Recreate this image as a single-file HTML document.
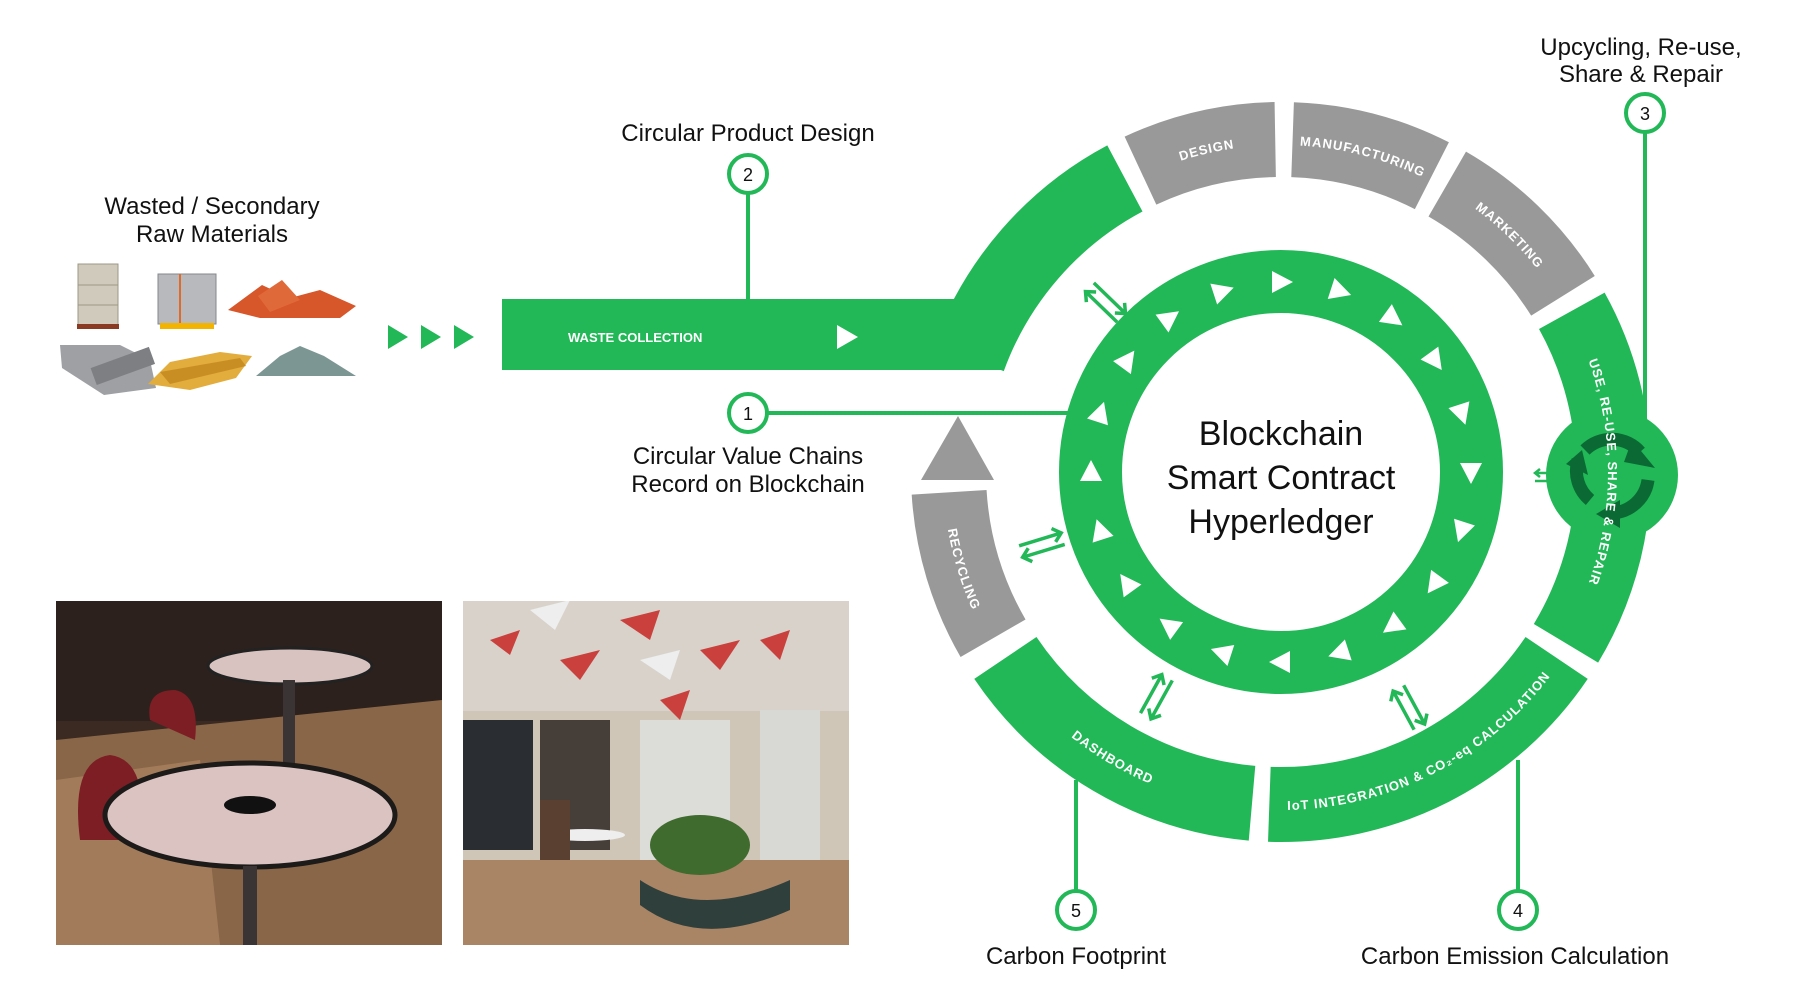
<!DOCTYPE html>
<html><head><meta charset="utf-8"><style>
html,body{margin:0;padding:0;background:#fff;}
svg{display:block;}
text{font-family:"Liberation Sans",sans-serif;}
</style></head><body>
<svg width="1800" height="992" viewBox="0 0 1800 992" xmlns="http://www.w3.org/2000/svg">
<defs>
<path id="cw" d="M1608,472 A327 327 0 1 1 954,472 A327 327 0 1 1 1608,472"/>
<path id="ccw" d="M1619,472 A338 338 0 1 0 943,472 A338 338 0 1 0 1619,472"/>
</defs>
<rect width="1800" height="992" fill="#fff"/>

<!-- Outer ring segments -->
<g fill="none" stroke-width="75">
<circle cx="1281" cy="472" r="332.5" stroke="#22b857" stroke-dasharray="243.7 3000" transform="rotate(-160 1281 472)"/>
<circle cx="1281" cy="472" r="332.5" stroke="#999" stroke-dasharray="139.3 3000" transform="rotate(-115 1281 472)"/>
<circle cx="1281" cy="472" r="332.5" stroke="#999" stroke-dasharray="145 3000" transform="rotate(-88 1281 472)"/>
<circle cx="1281" cy="472" r="332.5" stroke="#999" stroke-dasharray="162.5 3000" transform="rotate(-60 1281 472)"/>
<circle cx="1281" cy="472" r="332.5" stroke="#22b857" stroke-dasharray="348.2 3000" transform="rotate(-29 1281 472)"/>
<circle cx="1281" cy="472" r="332.5" stroke="#22b857" stroke-dasharray="336.6 3000" transform="rotate(34 1281 472)"/>
<circle cx="1281" cy="472" r="332.5" stroke="#22b857" stroke-dasharray="295.9 3000" transform="rotate(95 1281 472)"/>
<circle cx="1281" cy="472" r="332.5" stroke="#999" stroke-dasharray="153.8 3000" transform="rotate(150 1281 472)"/>
</g>
<rect x="502" y="299" width="502" height="71" fill="#22b857"/>

<!-- Recycle circle -->
<circle cx="1612" cy="475" r="66" fill="#22b857"/>
<g fill="none" stroke="#0b6a33" stroke-width="13">
<path d="M1585,450 A38 38 0 0 1 1640,452"/>
<path d="M1648,480 A38 38 0 0 1 1612,513"/>
<path d="M1590,500 A38 38 0 0 1 1578,460"/>
</g>
<g fill="#0b6a33">
<polygon points="1632,440 1655,468 1624,462"/>
<polygon points="1620,500 1596,514 1620,528"/>
<polygon points="1566,464 1582,450 1588,475"/>
</g>

<!-- Segment labels -->
<g fill="#fff" font-size="13" font-weight="bold" letter-spacing="1">
<text transform="rotate(-193 1281 472)"><textPath href="#cw" startOffset="25%" text-anchor="middle">DESIGN</textPath></text>
<text transform="rotate(-165.5 1281 472)"><textPath href="#cw" startOffset="25%" text-anchor="middle">MANUFACTURING</textPath></text>
<text transform="rotate(-136 1281 472)"><textPath href="#cw" startOffset="25%" text-anchor="middle">MARKETING</textPath></text>
<text transform="rotate(-90 1281 472)"><textPath href="#cw" startOffset="25%" text-anchor="middle">USE, RE-USE, SHARE &amp; REPAIR</textPath></text>
<text transform="rotate(153 1281 472)"><textPath href="#ccw" startOffset="25%" text-anchor="middle">IoT INTEGRATION &amp; CO₂-eq CALCULATION</textPath></text>
<text transform="rotate(210.5 1281 472)"><textPath href="#ccw" startOffset="25%" text-anchor="middle">DASHBOARD</textPath></text>
<text transform="rotate(253 1281 472)"><textPath href="#ccw" startOffset="25%" text-anchor="middle">RECYCLING</textPath></text>
</g>
<text x="568" y="342" fill="#fff" font-size="13" font-weight="bold">WASTE COLLECTION</text>
<polygon points="837,325 837,349 858,337" fill="#fff"/>

<!-- gray triangle -->
<polygon points="921,480 994,480 958,416" fill="#999"/>

<!-- Inner ring -->
<circle cx="1281" cy="472" r="190.5" fill="none" stroke="#22b857" stroke-width="63"/>
<g fill="#fff">
<g id="tri"><polygon points="1272,271 1272,293 1293,282"/></g>
<use href="#tri" transform="rotate(18 1281 472)"/>
<use href="#tri" transform="rotate(36 1281 472)"/>
<use href="#tri" transform="rotate(54 1281 472)"/>
<use href="#tri" transform="rotate(72 1281 472)"/>
<use href="#tri" transform="rotate(90 1281 472)"/>
<use href="#tri" transform="rotate(108 1281 472)"/>
<use href="#tri" transform="rotate(126 1281 472)"/>
<use href="#tri" transform="rotate(144 1281 472)"/>
<use href="#tri" transform="rotate(162 1281 472)"/>
<use href="#tri" transform="rotate(180 1281 472)"/>
<use href="#tri" transform="rotate(198 1281 472)"/>
<use href="#tri" transform="rotate(216 1281 472)"/>
<use href="#tri" transform="rotate(234 1281 472)"/>
<use href="#tri" transform="rotate(252 1281 472)"/>
<use href="#tri" transform="rotate(270 1281 472)"/>
<use href="#tri" transform="rotate(288 1281 472)"/>
<use href="#tri" transform="rotate(306 1281 472)"/>
<use href="#tri" transform="rotate(324 1281 472)"/>
<use href="#tri" transform="rotate(342 1281 472)"/>
</g>
<g font-size="34" fill="#111" text-anchor="middle">
<text x="1281" y="445">Blockchain</text>
<text x="1281" y="489">Smart Contract</text>
<text x="1281" y="533">Hyperledger</text>
</g>

<!-- double arrows -->
<g fill="none" stroke="#22b857" stroke-width="3.5">
<g transform="translate(1281 472) rotate(-136) translate(244 0)"><path d="M-22,-6 H22 M14,-13 L22,-6 L14,1 M22,6 H-22 M-14,-1 L-22,6 L-14,13"/></g>
<g transform="translate(1281 472) rotate(163) translate(250 0)"><path d="M-22,-6 H22 M14,-13 L22,-6 L14,1 M22,6 H-22 M-14,-1 L-22,6 L-14,13"/></g>
<g transform="translate(1281 472) rotate(119) translate(257 0)"><path d="M-22,-6 H22 M14,-13 L22,-6 L14,1 M22,6 H-22 M-14,-1 L-22,6 L-14,13"/></g>
<g transform="translate(1281 472) rotate(61.5) translate(268 0)"><path d="M-22,-6 H22 M14,-13 L22,-6 L14,1 M22,6 H-22 M-14,-1 L-22,6 L-14,13"/></g>
<g transform="translate(1546 477)" stroke-width="2.5"><path d="M-11,-4 H11 M-6,-8 L-11,-4 L-6,0 M11,4 H-11 M6,0 L11,4 L6,8"/></g>
</g>

<!-- three arrows -->
<g fill="#22b857">
<polygon points="388,325 388,349 408,337"/>
<polygon points="421,325 421,349 441,337"/>
<polygon points="454,325 454,349 474,337"/>
</g>

<!-- callouts -->
<g stroke="#22b857" stroke-width="4" fill="#fff">
<line x1="748" y1="193" x2="748" y2="300"/>
<line x1="767" y1="413" x2="1070" y2="413"/>
<line x1="1645" y1="133" x2="1645" y2="420"/>
<line x1="1076" y1="780" x2="1076" y2="891"/>
<line x1="1518" y1="760" x2="1518" y2="891"/>
<circle cx="748" cy="174" r="19"/>
<circle cx="748" cy="413" r="19"/>
<circle cx="1645" cy="113" r="19"/>
<circle cx="1076" cy="910" r="19"/>
<circle cx="1518" cy="910" r="19"/>
</g>
<g font-size="18" fill="#111" text-anchor="middle">
<text x="748" y="181">2</text><text x="748" y="420">1</text><text x="1645" y="120">3</text>
<text x="1076" y="917">5</text><text x="1518" y="917">4</text>
</g>
<g font-size="24" fill="#111" text-anchor="middle">
<text x="748" y="141">Circular Product Design</text>
<text x="748" y="464">Circular Value Chains</text>
<text x="748" y="492">Record on Blockchain</text>
<text x="212" y="214">Wasted / Secondary</text>
<text x="212" y="242">Raw Materials</text>
<text x="1641" y="55">Upcycling, Re-use,</text>
<text x="1641" y="82">Share &amp; Repair</text>
<text x="1076" y="964">Carbon Footprint</text>
<text x="1515" y="964">Carbon Emission Calculation</text>
</g>

<!-- materials -->
<g>
<rect x="78" y="264" width="40" height="62" fill="#cfcabb" stroke="#9d9886"/>
<line x1="78" y1="285" x2="118" y2="285" stroke="#9d9886"/><line x1="78" y1="305" x2="118" y2="305" stroke="#9d9886"/>
<rect x="77" y="324" width="42" height="5" fill="#8a3a22"/>
<rect x="158" y="274" width="58" height="50" fill="#b7b9bd" stroke="#85878b"/>
<line x1="180" y1="274" x2="180" y2="324" stroke="#e06a2a" stroke-width="2"/>
<rect x="160" y="323" width="54" height="6" fill="#f2b400"/>
<polygon points="228,310 262,285 290,298 320,290 356,306 340,318 260,318" fill="#d7562a"/>
<polygon points="258,296 282,280 300,300 270,312" fill="#e0693a"/>
<polygon points="60,345 120,345 150,360 156,388 104,395 62,368" fill="#9ea0a4"/>
<rect x="92" y="358" width="62" height="18" fill="#7d7f83" transform="rotate(-20 120 367)"/>
<polygon points="148,384 170,362 220,352 252,356 236,378 190,390" fill="#e2ad3c"/>
<polygon points="160,372 240,358 246,366 170,384" fill="#c98e23"/>
<polygon points="256,376 280,356 300,346 324,356 356,376" fill="#7c9694"/>
</g>

<!-- photos -->
<defs><clipPath id="p1"><rect x="56" y="601" width="386" height="344"/></clipPath>
<clipPath id="p2"><rect x="463" y="601" width="386" height="344"/></clipPath></defs>
<g clip-path="url(#p1)">
<rect x="56" y="601" width="386" height="344" fill="#3a2a22"/>
<rect x="56" y="601" width="386" height="120" fill="#2c211c"/>
<polygon points="56,740 442,700 442,945 56,945" fill="#8a6648"/>
<polygon points="56,780 200,760 220,945 56,945" fill="#a27c5a"/>
<path d="M80,840 Q70,760 110,755 Q150,760 140,840 Z" fill="#7c1e24"/>
<path d="M150,720 Q145,690 175,690 Q200,695 195,740 Z" fill="#7c1e24"/>
<ellipse cx="290" cy="666" rx="82" ry="18" fill="#d9c3c0" stroke="#222" stroke-width="3"/>
<rect x="283" y="680" width="12" height="100" fill="#3a3534"/>
<ellipse cx="250" cy="815" rx="145" ry="52" fill="#dbc3c2" stroke="#1d1a1a" stroke-width="5"/>
<ellipse cx="250" cy="805" rx="26" ry="9" fill="#111"/>
<rect x="243" y="866" width="14" height="80" fill="#3a3534"/>
</g>
<g clip-path="url(#p2)">
<rect x="463" y="601" width="386" height="344" fill="#cfc6b8"/>
<rect x="463" y="601" width="386" height="110" fill="#d8d2ca"/>
<rect x="463" y="720" width="70" height="130" fill="#2a2e33"/>
<rect x="540" y="720" width="70" height="130" fill="#463e38"/>
<rect x="640" y="720" width="90" height="140" fill="#dcdcd8"/>
<rect x="760" y="710" width="60" height="150" fill="#d8d8d4"/>
<rect x="463" y="860" width="386" height="85" fill="#a98566"/>
<polygon points="490,640 520,630 510,655" fill="#c9403c"/>
<polygon points="560,660 600,650 580,680" fill="#c9403c"/>
<polygon points="620,620 660,610 650,640" fill="#c9403c"/>
<polygon points="700,650 740,640 720,670" fill="#c9403c"/>
<polygon points="660,700 690,690 680,720" fill="#c9403c"/>
<polygon points="760,640 790,630 780,660" fill="#c9403c"/>
<polygon points="530,610 570,600 555,630" fill="#eee"/>
<polygon points="640,660 680,650 670,680" fill="#eee"/>
<ellipse cx="700" cy="845" rx="50" ry="30" fill="#3f6b2e"/>
<path d="M640,880 Q700,920 790,880 L790,910 Q700,950 640,905 Z" fill="#2f3f3c"/>
<ellipse cx="585" cy="835" rx="40" ry="6" fill="#eee"/>
<rect x="540" y="800" width="30" height="60" fill="#5a4030"/>
</g>
</svg>
</body></html>
